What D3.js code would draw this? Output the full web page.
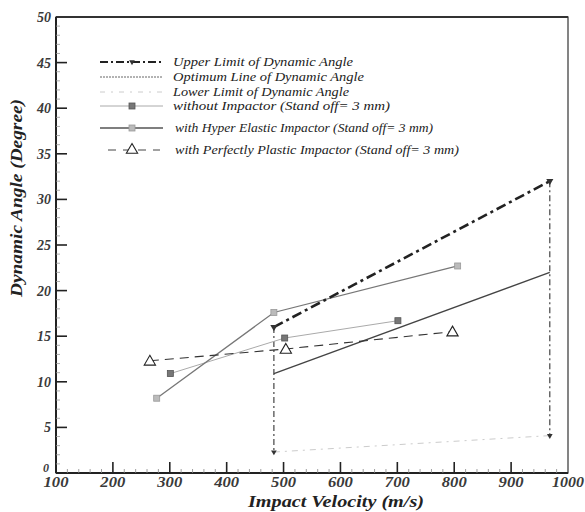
<!DOCTYPE html>
<html>
<head>
<meta charset="utf-8">
<script src="https://cdn.jsdelivr.net/npm/d3@7/dist/d3.min.js"></script>
<style>
  html, body { margin: 0; padding: 0; background: #fff; }
  svg { display: block; }
  text { font-family: "Liberation Serif", "DejaVu Serif", serif; font-style: italic; }
</style>
</head>
<body>
<svg id="chart" width="585" height="512"></svg>
<script>
// Series: impact velocity (m/s) vs dynamic angle (degree)
const upperLimit   = [[483, 16.0], [968, 32.0]];
const optimumLine  = [[483, 10.9], [968, 22.0]];
const lowerLimit   = [[483, 2.3], [968, 4.1]];
const withoutImp   = [[301, 10.9], [502, 14.8], [701, 16.7]];
const hyperElastic = [[277, 8.2], [483, 17.6], [806, 22.7]];
const perfPlastic  = [[265, 12.3], [504, 13.6], [797, 15.5]];

const xTicks = [100, 200, 300, 400, 500, 600, 700, 800, 900, 1000];
const yTicks = [0, 5, 10, 15, 20, 25, 30, 35, 40, 45, 50];

const legendLabels = [
  "Upper Limit of Dynamic Angle",
  "Optimum Line of Dynamic Angle",
  "Lower Limit of Dynamic Angle",
  "without Impactor (Stand off= 3 mm)",
  "with Hyper Elastic Impactor (Stand off= 3 mm)",
  "with Perfectly Plastic Impactor (Stand off= 3 mm)"
];

const svg = d3.select("#chart");
const L = 56, R = 568, T = 17, B = 473;
const x = d3.scaleLinear().domain([100, 1000]).range([L, R]);
const y = d3.scaleLinear().domain([0, 50]).range([B, T]);
const line = d3.line().x(d => x(d[0])).y(d => y(d[1]));

// frame
svg.append("rect").attr("x", L).attr("y", T).attr("width", R - L).attr("height", B - T)
  .attr("fill", "none").attr("stroke", "#333").attr("stroke-width", 1.2);
svg.append("line").attr("x1", L).attr("x2", R).attr("y1", T).attr("y2", T)
  .attr("stroke", "#333").attr("stroke-width", 2);
svg.append("line").attr("x1", L).attr("x2", L).attr("y1", T).attr("y2", B)
  .attr("stroke", "#222").attr("stroke-width", 2);
svg.append("line").attr("x1", L).attr("x2", R).attr("y1", B).attr("y2", B)
  .attr("stroke", "#222").attr("stroke-width", 2);

// ticks (drawn inward)
const gx = svg.append("g");
d3.range(100, 1001, 20).forEach(v => {
  const major = v % 100 === 0;
  if (v === 100 || v === 1000) return;
  gx.append("line").attr("x1", x(v)).attr("x2", x(v)).attr("y1", B).attr("y2", B - (major ? 11 : 4))
    .attr("stroke", major ? "#222" : "#888").attr("stroke-width", major ? 1.6 : 0.8);
});
const gy = svg.append("g");
d3.range(0, 51, 1).forEach(v => {
  const major = v % 5 === 0;
  if (v === 0 || v === 50) return;
  gy.append("line").attr("x1", L).attr("x2", L + (major ? 11 : 4)).attr("y1", y(v)).attr("y2", y(v))
    .attr("stroke", major ? "#222" : "#999").attr("stroke-width", major ? 1.6 : 0.8);
});

// tick labels
svg.append("g").selectAll("text").data(xTicks).join("text")
  .attr("x", d => x(d)).attr("y", 487)
  .attr("text-anchor", "middle").attr("font-size", 14).attr("font-weight", "bold")
  .attr("textLength", d => d >= 1000 ? 32 : 25).attr("lengthAdjust", "spacingAndGlyphs")
  .attr("fill", "#3a3a3a").text(d => d);
svg.append("g").selectAll("text").data(yTicks).join("text")
  .attr("x", d => d === 0 ? 49 : 51).attr("y", d => d === 0 ? y(d) - 1 : y(d) + 5)
  .attr("text-anchor", "end").attr("font-size", d => d === 0 ? 12 : 14).attr("font-weight", "bold")
  .attr("fill", "#3a3a3a").text(d => d);

// axis titles
svg.append("text").attr("x", 336).attr("y", 507).attr("text-anchor", "middle")
  .attr("font-size", 16).attr("font-weight", "bold").attr("fill", "#222")
  .attr("textLength", 176).attr("lengthAdjust", "spacingAndGlyphs")
  .text("Impact Velocity (m/s)");
svg.append("text").attr("transform", "translate(22,198) rotate(-90)").attr("text-anchor", "middle")
  .attr("font-size", 16).attr("font-weight", "bold").attr("fill", "#222")
  .attr("textLength", 198).attr("lengthAdjust", "spacingAndGlyphs")
  .text("Dynamic Angle (Degree)");

const plot = svg.append("g");

// marker helpers
const tri = d3.symbol().type(d3.symbolTriangle);
function downTri(g, px, py, s) {
  g.append("path").attr("d", tri.size(s)()).attr("transform", `translate(${px},${py}) rotate(180)`)
    .attr("fill", "#333");
}
function square(g, px, py, s, fill, stroke) {
  g.append("rect").attr("x", px - s / 2).attr("y", py - s / 2).attr("width", s).attr("height", s)
    .attr("fill", fill).attr("stroke", stroke).attr("stroke-width", 0.8);
}
function openTri(g, px, py) {
  g.append("path").attr("d", tri.size(55)()).attr("transform", `translate(${px},${py + 1})`)
    .attr("fill", "#fff").attr("stroke", "#222").attr("stroke-width", 1.1);
}

// lower limit (faint dashed)
plot.append("path").attr("d", line(lowerLimit)).attr("fill", "none")
  .attr("stroke", "#ccc").attr("stroke-width", 1).attr("stroke-dasharray", "6,5,2,5");

// vertical bounds joining the limit lines
[0, 1].forEach(i => {
  plot.append("path").attr("d", line([upperLimit[i], lowerLimit[i]])).attr("fill", "none")
    .attr("stroke", "#444").attr("stroke-width", 1.2).attr("stroke-dasharray", "6,3,2,3");
  downTri(plot, x(lowerLimit[i][0]), y(lowerLimit[i][1]), 14);
});

// optimum line
plot.append("path").attr("d", line(optimumLine)).attr("fill", "none")
  .attr("stroke", "#444").attr("stroke-width", 1.4);

// without impactor
plot.append("path").attr("d", line(withoutImp)).attr("fill", "none")
  .attr("stroke", "#aaa").attr("stroke-width", 1);
withoutImp.forEach(d => square(plot, x(d[0]), y(d[1]), 6, "#777", "#555"));

// hyper elastic impactor
plot.append("path").attr("d", line(hyperElastic)).attr("fill", "none")
  .attr("stroke", "#777").attr("stroke-width", 1.3);
hyperElastic.forEach(d => square(plot, x(d[0]), y(d[1]), 6, "#bbb", "#999"));

// perfectly plastic impactor
plot.append("path").attr("d", line(perfPlastic)).attr("fill", "none")
  .attr("stroke", "#333").attr("stroke-width", 1.1).attr("stroke-dasharray", "9,6");
perfPlastic.forEach(d => openTri(plot, x(d[0]), y(d[1])));

// upper limit (thick dash-dot)
plot.append("path").attr("d", line(upperLimit)).attr("fill", "none")
  .attr("stroke", "#222").attr("stroke-width", 2.6).attr("stroke-dasharray", "10,4,3,4");
upperLimit.forEach(d => downTri(plot, x(d[0]), y(d[1]), 22));

// legend
const leg = svg.append("g");
const rowsY = [62, 77, 92, 106, 128, 150];
const textW = [180, 191, 176, 217, 258, 284];
const sx0 = 100, sx1 = 163, sxm = 132;
legendLabels.forEach((t, i) => {
  const ry = rowsY[i];
  const ln = leg.append("line").attr("x1", sx0).attr("x2", sx1).attr("y1", ry).attr("y2", ry).attr("fill", "none");
  if (i === 0) { ln.attr("stroke", "#222").attr("stroke-width", 2).attr("stroke-dasharray", "8,3,2,3"); downTri(leg, sxm, ry, 14); }
  if (i === 1) { ln.attr("stroke", "#666").attr("stroke-width", 1).attr("stroke-dasharray", "2,1"); }
  if (i === 2) { ln.attr("stroke", "#ccc").attr("stroke-width", 1).attr("stroke-dasharray", "5,6,2,6"); }
  if (i === 3) { ln.attr("stroke", "#aaa").attr("stroke-width", 1); square(leg, sxm, ry, 6, "#777", "#555"); }
  if (i === 4) { ln.attr("stroke", "#555").attr("stroke-width", 1.6); square(leg, sxm, ry, 6, "#bbb", "#999"); }
  if (i === 5) { ln.attr("x1", 108).attr("x2", 160).attr("stroke", "#444").attr("stroke-width", 1).attr("stroke-dasharray", "8,7"); openTri(leg, sxm, ry - 1); }
  leg.append("text").attr("x", i >= 4 ? 175 : 173).attr("y", ry + 4)
    .attr("font-size", 12).attr("fill", "#222")
    .attr("textLength", textW[i]).attr("lengthAdjust", "spacingAndGlyphs").text(t);
});
</script>
</body>
</html>
